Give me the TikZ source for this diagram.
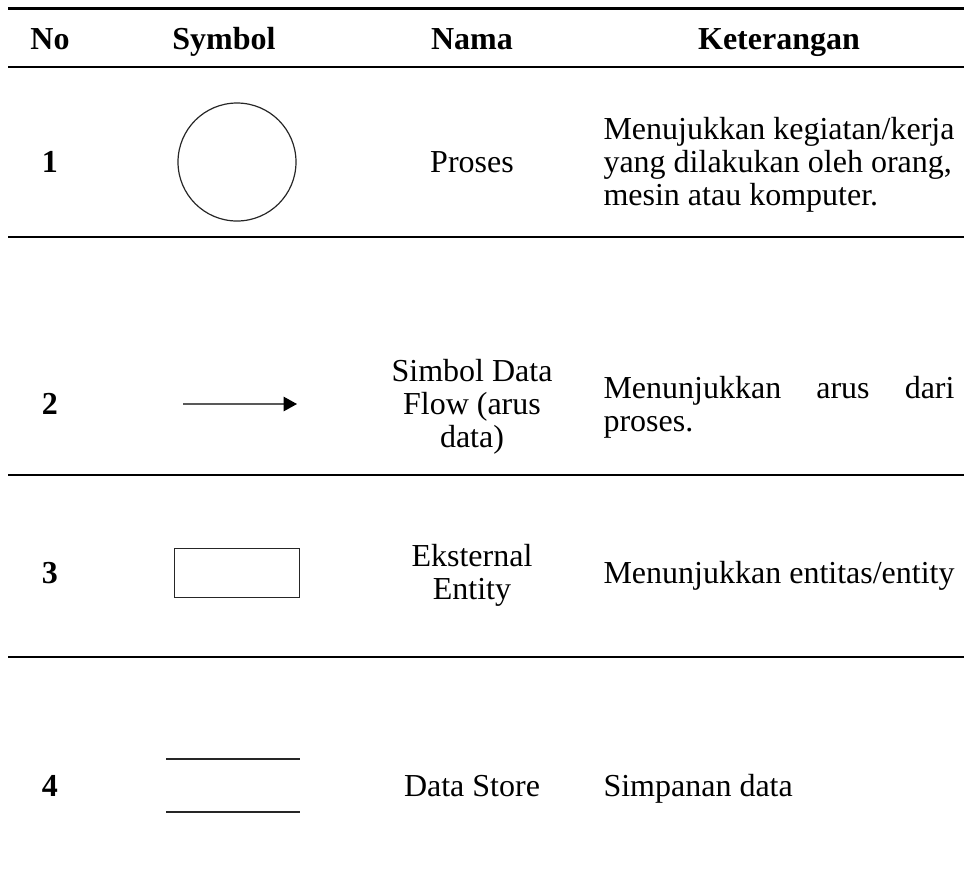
\documentclass[tikz,border=0pt]{standalone}
\usepackage{fontspec}
\setmainfont{Liberation Serif}
\usetikzlibrary{arrows.meta}
\newcommand{\celltext}{\fontsize{12}{12.4}\selectfont}
\newlength{\ketwidth}
\tikzset{
  headtext/.style={font=\celltext\bfseries, inner sep=0pt, anchor=base},
  numtext/.style={font=\celltext\bfseries, inner sep=0pt, text height=8pt, text depth=0pt},
  tablerule/.style={line width=1.05pt},
  symline/.style={draw=black!85, line width=0.45pt},
  desctext/.style={font=\celltext, inner sep=0pt, align=left, anchor=west},
  nametext/.style={font=\celltext, inner sep=0pt, align=center},
  oneline/.style={text height=8.2pt, text depth=0.6pt},
}
\begin{document}
\settowidth{\ketwidth}{\celltext Menujukkan kegiatan/kerja}
\begin{tikzpicture}[x=0.375pt,y=-0.375pt]
\useasboundingbox (0,0) rectangle (964,891);

% table rules
\draw[tablerule] (8,8.3) -- (964,8.3);
\draw[tablerule] (8,67) -- (964,67);
\draw[tablerule] (8,237) -- (964,237);
\draw[tablerule] (8,475) -- (964,475);
\draw[tablerule] (8,657) -- (964,657);

% header
\node[headtext] (hNo)   at (50,49)  {No};
\node[headtext] (hSym)  at (224,49) {Symbol};
\node[headtext] (hNama) at (472,49) {Nama};
\node[headtext] (hKet)  at (779,49) {Keterangan};

% row 1: process
\node[numtext] (n1) at (50,162) {1};
\node[symline, circle, minimum size=44.25pt, inner sep=0pt] (proc) at (237,162) {};
\node[nametext, oneline] (nm1) at (472,162) {Proses};
\node[desctext] (d1) at (603,165) {Menujukkan kegiatan/kerja\\yang dilakukan oleh orang,\\mesin atau komputer.};

% row 2: data flow
\node[numtext] (n2) at (50,404) {2};
\coordinate (flowA) at (183,404);
\coordinate (flowB) at (297,404);
\draw[draw=black!65, line width=0.5pt, -{Triangle[length=5pt,width=5.4pt,color=black]}] (flowA) -- (flowB);
\node[nametext] (nm2) at (472,407) {Simbol Data\\Flow (arus\\data)};
\node[desctext] (d2) at (603,407) {\makebox[\ketwidth][s]{Menunjukkan arus dari}\\proses.};

% row 3: external entity
\node[numtext] (n3) at (50,573) {3};
\node[symline, rectangle, minimum width=46.9pt, minimum height=18.4pt, inner sep=0pt] (ent) at (237,573) {};
\node[nametext] (nm3) at (472,575.5) {Eksternal\\Entity};
\node[desctext, oneline] (d3) at (603,573) {Menunjukkan entitas/entity};

% row 4: data store
\node[numtext] (n4) at (50,786) {4};
\coordinate (dsTL) at (166,759);
\coordinate (dsTR) at (300,759);
\coordinate (dsBL) at (166,812);
\coordinate (dsBR) at (300,812);
\draw[symline] (dsTL) -- (dsTR);
\draw[symline] (dsBL) -- (dsBR);
\node[nametext, oneline] (nm4) at (472,786) {Data Store};
\node[desctext, oneline] (d4) at (603,786) {Simpanan data};
\end{tikzpicture}
\end{document}
